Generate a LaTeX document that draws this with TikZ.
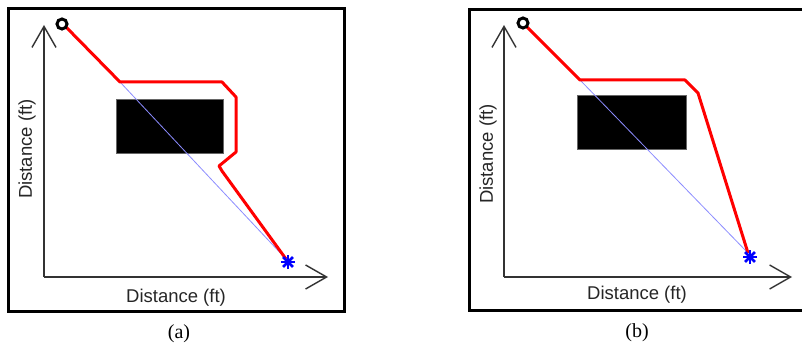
\documentclass[tikz,border=0pt]{standalone}
\usepackage{fontspec}
\setmainfont{Liberation Serif}
\newfontfamily\labelfont{Liberation Sans}
\usetikzlibrary{arrows.meta, calc}
\definecolor{pathred}{HTML}{FF0000}
\definecolor{lineblue}{HTML}{8C8CFF}
\definecolor{goalblue}{HTML}{0000FF}
\definecolor{axisgray}{HTML}{333333}

\begin{document}
\begin{tikzpicture}[
  x=1pt, y=-1pt,
  >={Straight Barb[length=21pt, width=24pt]},
  frame/.style={draw=black, line width=3pt},
  axis/.style={->, draw=axisgray, line width=1.4pt},
  obstacle/.style={fill=black, draw=black!60, line width=0.6pt},
  route/.style={draw=pathred, line width=3pt, line join=round},
  direct/.style={draw=lineblue, line width=0.8pt},
  startmark/.style={draw=black, line width=3pt},
  goalmark/.style={draw=goalblue, line width=2.6pt},
  axlabel/.style={font=\labelfont\fontsize{18.5}{22}\selectfont, text=black!85},
  caption/.style={font=\fontsize{20}{24}\selectfont},
]
\useasboundingbox (0,0) rectangle (802,347);

% =============================================
% Panel (a)
% =============================================
\draw[frame] (8,9) rectangle (344,311);
\coordinate (oa) at (44,277);
\draw[axis] (oa) -- (44,25);
\draw[axis] (oa) -- (328,277);
\node[axlabel] (xla) at (176,298) {Distance (ft)};
\node[axlabel, rotate=90] (yla) at (27,149) {Distance (ft)};

\fill[obstacle] (116,99) rectangle (223,153);

\coordinate (sa) at (62,24);
\coordinate (ga) at (288,262);
\draw[direct] (120,82) -- (286,259);
\draw[route] (66,27) -- (120,82) -- (222,82) -- (236,97) -- (236,152)
  -- (219,166) -- (222,171) -- (286,259);
\draw[startmark] (sa) circle (5);
\foreach \ang in {0,45,90,135}
  \draw[goalmark] ($(ga)+(\ang:7)$) -- ($(ga)+(\ang+180:7)$);

\node[caption] (capa) at (179,334) {(a)};

% =============================================
% Panel (b)
% =============================================
\draw[frame] (469,10) rectangle (806,310);
\coordinate (ob) at (504,277);
\draw[axis] (ob) -- (504,25);
\draw[axis] (ob) -- (792,277);
\node[axlabel] (xlb) at (637,295) {Distance (ft)};
\node[axlabel, rotate=90] (ylb) at (488,154) {Distance (ft)};

\fill[obstacle] (577,95) rectangle (686,149);

\coordinate (sb) at (523,23);
\coordinate (gb) at (750,257);
\draw[direct] (580,80) -- (748,253);
\draw[route] (526,26) -- (580,80) -- (685,80) -- (698,93) -- (748,253);
\draw[startmark] (sb) circle (5);
\foreach \ang in {0,45,90,135}
  \draw[goalmark] ($(gb)+(\ang:7)$) -- ($(gb)+(\ang+180:7)$);

\node[caption] (capb) at (637,333) {(b)};

\end{tikzpicture}
\end{document}
